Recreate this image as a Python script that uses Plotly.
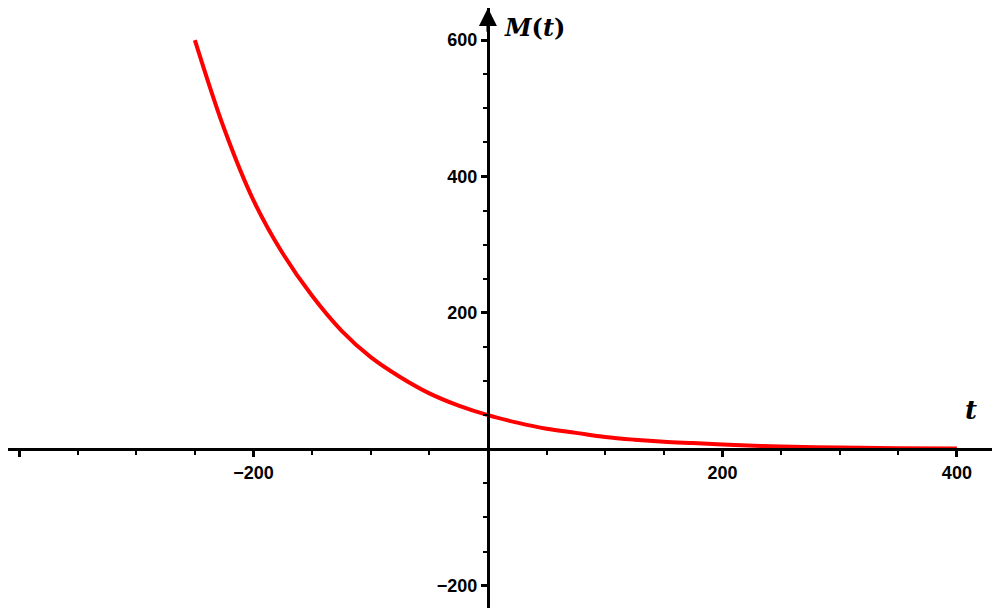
import plotly.graph_objects as go

# values
t_vals = [-250, -225, -200, -175, -150, -125, -100, -75, -50, -25, 0, 25, 50, 75, 100,
          125, 150, 175, 200, 250, 300, 350, 400]
m_vals = [600, 470, 365, 287, 225, 174, 135, 106, 82, 64, 50, 39, 30, 24, 18,
          14, 11, 9, 7, 4, 2.5, 1.5, 1]

x_ticks = [-400, -200, 200, 400]
y_ticks = [-200, 200, 400, 600]

x_range = [-409.4, 443.6]
y_range = [-244.5, 647]

fig = go.Figure()
fig.add_trace(go.Scatter(x=t_vals, y=m_vals, mode="lines", line=dict(color="#ff0000", width=4, shape="spline"),
                         showlegend=False, hoverinfo="skip"))

tickfont = dict(family="Arial", size=18, color="black", weight="bold")
fig.update_layout(
    width=1000, height=608, margin=dict(l=0, r=0, t=0, b=0),
    plot_bgcolor="white", paper_bgcolor="white",
    xaxis=dict(range=x_range, showgrid=False, zeroline=False, showline=True, linewidth=3, linecolor="black",
               anchor="free", position=(0 - y_range[0]) / (y_range[1] - y_range[0]),
               tickvals=x_ticks, ticks="outside", ticklen=6, tickwidth=3, tickcolor="black",
               tickfont=tickfont, minor=dict(dtick=50, ticks="outside", ticklen=4, tickwidth=2, tickcolor="black")),
    yaxis=dict(range=y_range, showgrid=False, zeroline=False, showline=True, linewidth=3, linecolor="black",
               anchor="free", position=(0 - x_range[0]) / (x_range[1] - x_range[0]),
               tickvals=y_ticks, ticks="outside", ticklen=6, tickwidth=3, tickcolor="black",
               tickfont=tickfont, minor=dict(dtick=50, ticks="outside", ticklen=4, tickwidth=2, tickcolor="black")),
)
# arrow at top of y axis
fig.add_annotation(x=0, y=y_range[1], ax=0, ay=610, xref="x", yref="y", axref="x", ayref="y",
                   showarrow=True, arrowhead=2, arrowsize=1.2, arrowwidth=3, arrowcolor="black", text="")
fig.add_annotation(x=12, y=618, xref="x", yref="y", text="<b><i>M</i>(<i>t</i>)</b>", showarrow=False,
                   xanchor="left", font=dict(family="DejaVu Serif", size=24, color="black"))
fig.add_annotation(x=412, y=58, xref="x", yref="y", text="<b><i>t</i></b>", showarrow=False,
                   font=dict(family="DejaVu Serif", size=26, color="black"))

fig.write_html("out.html")
